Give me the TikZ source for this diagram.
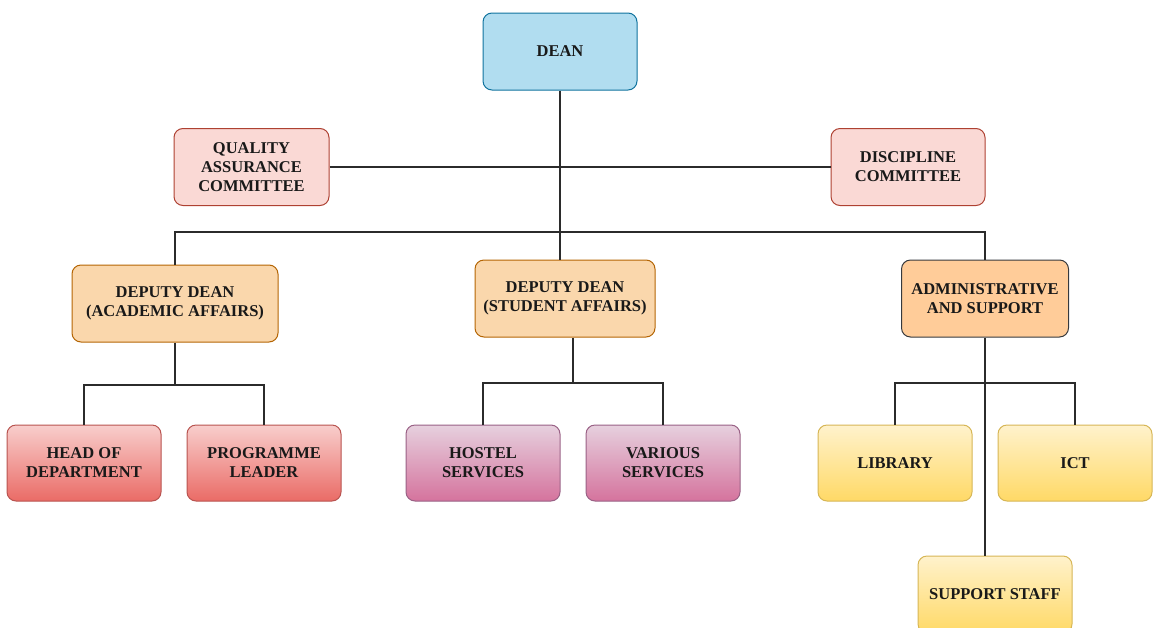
\documentclass[tikz,border=0pt]{standalone}
\usepackage{fontspec}
\setmainfont{Liberation Serif}
\definecolor{deanF}{HTML}{B1DDF0}\definecolor{deanD}{HTML}{10739E}
\definecolor{comF}{HTML}{FAD9D5}\definecolor{comD}{HTML}{AE4132}
\definecolor{depF}{HTML}{FAD7AC}\definecolor{depD}{HTML}{B46504}
\definecolor{admF}{HTML}{FFCC99}\definecolor{admD}{HTML}{36393D}
\definecolor{redT}{HTML}{F8CECC}\definecolor{redB}{HTML}{EA6B66}\definecolor{redD}{HTML}{B85450}
\definecolor{purT}{HTML}{E6D0DE}\definecolor{purB}{HTML}{D5739D}\definecolor{purD}{HTML}{996185}
\definecolor{yelT}{HTML}{FFF2CC}\definecolor{yelB}{HTML}{FFD966}\definecolor{yelD}{HTML}{D6B656}
\definecolor{lineC}{HTML}{2B2B2B}
\begin{document}
\begin{tikzpicture}[x=1pt,y=-1pt,
  box/.style={draw, rounded corners=9pt, line width=1pt, align=center, inner sep=2pt,
    minimum width=154pt, minimum height=77pt, text=black!90,
    font=\fontsize{16.5}{19}\selectfont\bfseries},
  conn/.style={draw=lineC, line width=1.2pt}]
\useasboundingbox (0,0) rectangle (1156,627);
\clip (0,0) rectangle (1156,627);
% nodes
\node[box, fill=deanF, draw=deanD] (dean) at (560,51.5) {DEAN};
\node[box, fill=comF, draw=comD, minimum width=155pt] (qa) at (251.5,167) {QUALITY\\ASSURANCE\\COMMITTEE};
\node[box, fill=comF, draw=comD] (dc) at (908,167) {DISCIPLINE\\COMMITTEE};
\node[box, fill=depF, draw=depD, minimum width=206pt] (daa) at (175,303.5) {DEPUTY DEAN\\(ACADEMIC AFFAIRS)};
\node[box, fill=depF, draw=depD, minimum width=180pt] (dds) at (565,298.5) {DEPUTY DEAN\\(STUDENT AFFAIRS)};
\node[box, fill=admF, draw=admD, minimum width=167pt] (adm) at (985,298.5) {ADMINISTRATIVE\\AND SUPPORT};
\node[box, top color=redT, bottom color=redB, draw=redD, minimum height=76pt] (hod) at (84,463) {HEAD OF\\DEPARTMENT};
\node[box, top color=redT, bottom color=redB, draw=redD, minimum height=76pt] (pl) at (264,463) {PROGRAMME\\LEADER};
\node[box, top color=purT, bottom color=purB, draw=purD, minimum height=76pt] (hs) at (483,463) {HOSTEL\\SERVICES};
\node[box, top color=purT, bottom color=purB, draw=purD, minimum height=76pt] (vs) at (663,463) {VARIOUS\\SERVICES};
\node[box, top color=yelT, bottom color=yelB, draw=yelD, minimum height=76pt] (lib) at (895,463) {LIBRARY};
\node[box, top color=yelT, bottom color=yelB, draw=yelD, minimum height=76pt] (ict) at (1075,463) {ICT};
\node[box, top color=yelT, bottom color=yelB, draw=yelD] (ss) at (995,594.5) {SUPPORT STAFF};
% junctions
\coordinate (j1) at (560,232);
\coordinate (ja) at (175,385);
\coordinate (js) at (573,383);
\coordinate (jd) at (985,383);
% connectors
\draw[conn] (qa.east) -- (dc.west);
\draw[conn] (dean.south) -- (dean.south |- dds.north);
\draw[conn] (daa.north) |- (adm.north |- j1) -- (adm.north);
\draw[conn] (daa.south) -- (ja);
\draw[conn] (hod.north) |- (ja) -| (pl.north);
\draw[conn] (js |- dds.south) -- (js);
\draw[conn] (hs.north) |- (js) -| (vs.north);
\draw[conn] (adm.south) -- (adm.south |- ss.north);
\draw[conn] (lib.north) |- (jd) -| (ict.north);
\end{tikzpicture}
\end{document}
